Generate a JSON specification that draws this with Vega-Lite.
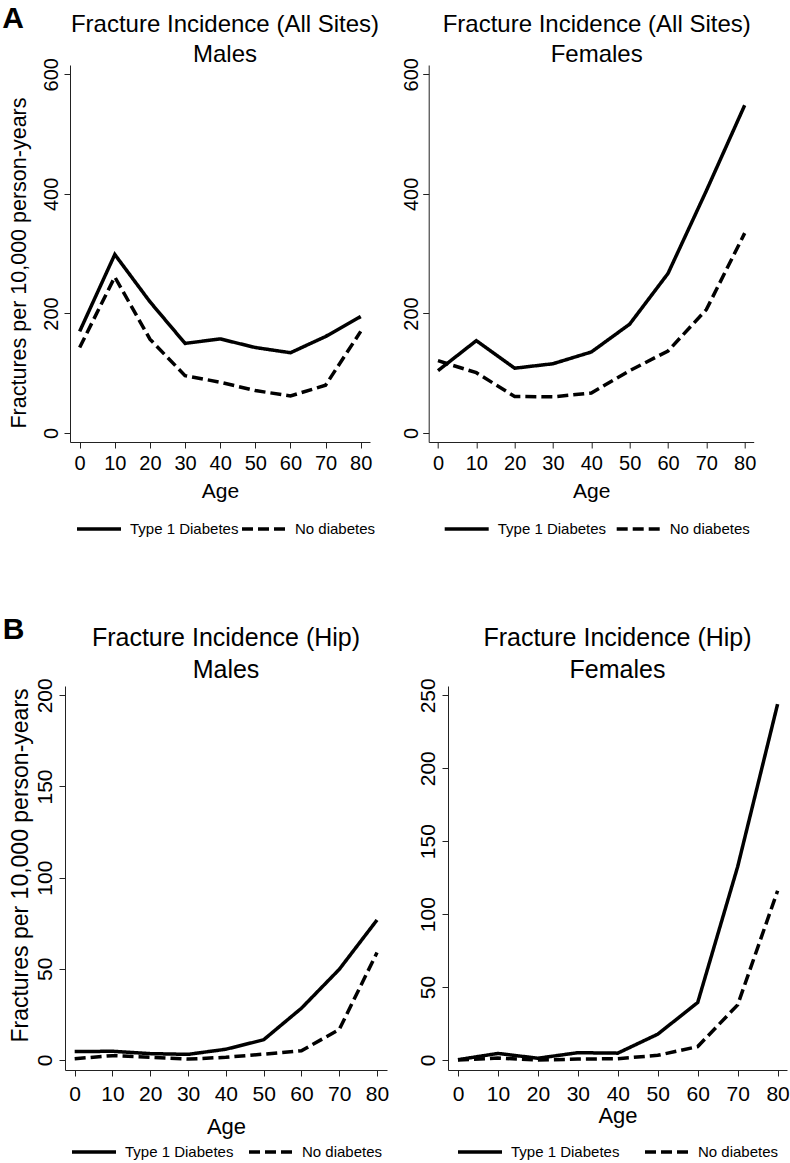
{
  "$schema": "https://vega.github.io/schema/vega-lite/v6.json",
  "padding": {"left": 2, "top": 3, "right": 0, "bottom": 0},
  "background": "white",
  "config": {
    "font": "Liberation Sans",
    "view": {"stroke": null},
    "axis": {
      "grid": false,
      "domainColor": "#222",
      "tickColor": "#222",
      "domainWidth": 1,
      "tickWidth": 1,
      "tickSize": 6,
      "labelColor": "black",
      "titleColor": "black",
      "labelFont": "Liberation Sans",
      "titleFont": "Liberation Sans",
      "labelFontSize": 20,
      "titleFontSize": 21,
      "titleFontWeight": "normal"
    },
    "axisY": {
      "labelAngle": -90,
      "labelAlign": "center",
      "labelBaseline": "bottom",
      "labelPadding": 2.4,
      "titleFontSize": 21.5,
      "titlePadding": 11
    },
    "axisX": {"labelPadding": 5, "titlePadding": 7.5},
    "title": {"font": "Liberation Sans", "fontSize": 24, "fontWeight": "normal", "color": "black", "lineHeight": 29.5, "offset": -9},
    "legend": {
      "orient": "bottom",
      "direction": "horizontal",
      "title": null,
      "symbolType": "stroke",
      "symbolSize": 1936,
      "symbolStrokeWidth": 3.5,
      "symbolStrokeColor": "black",
      "labelFont": "Liberation Sans",
      "labelFontSize": 15,
      "labelColor": "black",
      "labelOffset": 7,
      "columnPadding": 3,
      "offset": 3,
      "layout": {"bottom": {"anchor": "middle"}}
    },
    "line": {"color": "black", "strokeWidth": 3.5}
  },
  "data": {
    "values": [
      {"panel": "AM", "group": "Type 1 Diabetes", "age": 0, "rate": 170},
      {"panel": "AM", "group": "Type 1 Diabetes", "age": 10, "rate": 298.6},
      {"panel": "AM", "group": "Type 1 Diabetes", "age": 20, "rate": 219.6},
      {"panel": "AM", "group": "Type 1 Diabetes", "age": 30, "rate": 149.9},
      {"panel": "AM", "group": "Type 1 Diabetes", "age": 40, "rate": 157.4},
      {"panel": "AM", "group": "Type 1 Diabetes", "age": 50, "rate": 143},
      {"panel": "AM", "group": "Type 1 Diabetes", "age": 60, "rate": 134.3},
      {"panel": "AM", "group": "Type 1 Diabetes", "age": 70, "rate": 161.4},
      {"panel": "AM", "group": "Type 1 Diabetes", "age": 80, "rate": 194.8},
      {"panel": "AM", "group": "No diabetes", "age": 0, "rate": 143},
      {"panel": "AM", "group": "No diabetes", "age": 10, "rate": 261},
      {"panel": "AM", "group": "No diabetes", "age": 20, "rate": 157},
      {"panel": "AM", "group": "No diabetes", "age": 30, "rate": 96},
      {"panel": "AM", "group": "No diabetes", "age": 40, "rate": 85},
      {"panel": "AM", "group": "No diabetes", "age": 50, "rate": 71},
      {"panel": "AM", "group": "No diabetes", "age": 60, "rate": 62},
      {"panel": "AM", "group": "No diabetes", "age": 70, "rate": 80},
      {"panel": "AM", "group": "No diabetes", "age": 80, "rate": 170},
      {"panel": "AF", "group": "Type 1 Diabetes", "age": 0, "rate": 104.3},
      {"panel": "AF", "group": "Type 1 Diabetes", "age": 10, "rate": 154.5},
      {"panel": "AF", "group": "Type 1 Diabetes", "age": 20, "rate": 108.4},
      {"panel": "AF", "group": "Type 1 Diabetes", "age": 30, "rate": 115.9},
      {"panel": "AF", "group": "Type 1 Diabetes", "age": 40, "rate": 135.5},
      {"panel": "AF", "group": "Type 1 Diabetes", "age": 50, "rate": 182.1},
      {"panel": "AF", "group": "Type 1 Diabetes", "age": 60, "rate": 266.9},
      {"panel": "AF", "group": "Type 1 Diabetes", "age": 70, "rate": 405.2},
      {"panel": "AF", "group": "Type 1 Diabetes", "age": 80, "rate": 548.2},
      {"panel": "AF", "group": "No diabetes", "age": 0, "rate": 121},
      {"panel": "AF", "group": "No diabetes", "age": 10, "rate": 100.9},
      {"panel": "AF", "group": "No diabetes", "age": 20, "rate": 61.1},
      {"panel": "AF", "group": "No diabetes", "age": 30, "rate": 60.5},
      {"panel": "AF", "group": "No diabetes", "age": 40, "rate": 66.9},
      {"panel": "AF", "group": "No diabetes", "age": 50, "rate": 104.3},
      {"panel": "AF", "group": "No diabetes", "age": 60, "rate": 137.2},
      {"panel": "AF", "group": "No diabetes", "age": 70, "rate": 206.4},
      {"panel": "AF", "group": "No diabetes", "age": 80, "rate": 334.3},
      {"panel": "BM", "group": "Type 1 Diabetes", "age": 0, "rate": 4.6},
      {"panel": "BM", "group": "Type 1 Diabetes", "age": 10, "rate": 4.8},
      {"panel": "BM", "group": "Type 1 Diabetes", "age": 20, "rate": 3.5},
      {"panel": "BM", "group": "Type 1 Diabetes", "age": 30, "rate": 3.1},
      {"panel": "BM", "group": "Type 1 Diabetes", "age": 40, "rate": 5.9},
      {"panel": "BM", "group": "Type 1 Diabetes", "age": 50, "rate": 11.1},
      {"panel": "BM", "group": "Type 1 Diabetes", "age": 60, "rate": 28.4},
      {"panel": "BM", "group": "Type 1 Diabetes", "age": 70, "rate": 49.7},
      {"panel": "BM", "group": "Type 1 Diabetes", "age": 80, "rate": 76.8},
      {"panel": "BM", "group": "No diabetes", "age": 0, "rate": 0.7},
      {"panel": "BM", "group": "No diabetes", "age": 10, "rate": 2.4},
      {"panel": "BM", "group": "No diabetes", "age": 20, "rate": 1.5},
      {"panel": "BM", "group": "No diabetes", "age": 30, "rate": 0.5},
      {"panel": "BM", "group": "No diabetes", "age": 40, "rate": 1.5},
      {"panel": "BM", "group": "No diabetes", "age": 50, "rate": 3.2},
      {"panel": "BM", "group": "No diabetes", "age": 60, "rate": 5.1},
      {"panel": "BM", "group": "No diabetes", "age": 70, "rate": 16.7},
      {"panel": "BM", "group": "No diabetes", "age": 80, "rate": 58.9},
      {"panel": "BF", "group": "Type 1 Diabetes", "age": 0, "rate": 0.2},
      {"panel": "BF", "group": "Type 1 Diabetes", "age": 10, "rate": 4.5},
      {"panel": "BF", "group": "Type 1 Diabetes", "age": 20, "rate": 1.2},
      {"panel": "BF", "group": "Type 1 Diabetes", "age": 30, "rate": 5.0},
      {"panel": "BF", "group": "Type 1 Diabetes", "age": 40, "rate": 4.7},
      {"panel": "BF", "group": "Type 1 Diabetes", "age": 50, "rate": 17.7},
      {"panel": "BF", "group": "Type 1 Diabetes", "age": 60, "rate": 39.4},
      {"panel": "BF", "group": "Type 1 Diabetes", "age": 70, "rate": 132.5},
      {"panel": "BF", "group": "Type 1 Diabetes", "age": 80, "rate": 244},
      {"panel": "BF", "group": "No diabetes", "age": 0, "rate": 0},
      {"panel": "BF", "group": "No diabetes", "age": 10, "rate": 1.3},
      {"panel": "BF", "group": "No diabetes", "age": 20, "rate": 0},
      {"panel": "BF", "group": "No diabetes", "age": 30, "rate": 0.6},
      {"panel": "BF", "group": "No diabetes", "age": 40, "rate": 0.9},
      {"panel": "BF", "group": "No diabetes", "age": 50, "rate": 3.2},
      {"panel": "BF", "group": "No diabetes", "age": 60, "rate": 9.2},
      {"panel": "BF", "group": "No diabetes", "age": 70, "rate": 37.8},
      {"panel": "BF", "group": "No diabetes", "age": 80, "rate": 116}
    ]
  },
  "spacing": 77,
  "resolve": {"scale": {"x": "independent", "y": "independent", "strokeDash": "independent"}, "legend": {"strokeDash": "independent"}},
  "vconcat": [
    {
      "title": {"text": "A", "anchor": "start", "frame": "bounds", "fontSize": 30, "fontWeight": "bold", "offset": -20.6, "dx": -6.4},
      "hconcat": [
        {
          "width": 320, "height": 377,
          "title": {"text": ["Fracture Incidence (All Sites)", "Males"]},
          "transform": [{"filter": "datum.panel == 'AM'"}],
          "mark": {"type": "line"},
          "encoding": {
            "x": {"field": "age", "type": "quantitative", "scale": {"domain": [-2.75, 82.64], "range": [5, 305], "nice": false, "zero": false}, "axis": {"values": [0, 10, 20, 30, 40, 50, 60, 70, 80], "title": "Age", "titleX": 155}},
            "y": {"field": "rate", "type": "quantitative", "scale": {"domain": [-15, 615.5], "nice": false, "zero": false}, "axis": {"values": [0, 200, 400, 600], "title": "Fractures per 10,000 person-years", "titleY": 197.5, "offset": -5}},
            "strokeDash": {"field": "group", "type": "nominal", "scale": {"domain": ["Type 1 Diabetes", "No diabetes"], "range": [[1, 0], [11, 5]]}, "legend": {"columnPadding": -4, "offset": 3}}
          }
        },
        {
          "width": 336, "height": 377,
          "title": {"text": ["Fracture Incidence (All Sites)", "Females"]},
          "transform": [{"filter": "datum.panel == 'AF'"}],
          "mark": {"type": "line"},
          "encoding": {
            "x": {"field": "age", "type": "quantitative", "scale": {"domain": [-2.42, 82.35], "range": [0, 325], "nice": false, "zero": false}, "axis": {"values": [0, 10, 20, 30, 40, 50, 60, 70, 80], "title": "Age", "titleX": 162.5}},
            "y": {"field": "rate", "type": "quantitative", "scale": {"domain": [-15, 615.5], "nice": false, "zero": false}, "axis": {"values": [0, 200, 400, 600], "title": null, "labelPadding": 1}},
            "strokeDash": {"field": "group", "type": "nominal", "scale": {"domain": ["Type 1 Diabetes", "No diabetes"], "range": [[1, 0], [11, 5]]}, "legend": {"columnPadding": 3, "offset": 3}}
          }
        }
      ],
      "spacing": 43.7,
      "bounds": "flush",
      "resolve": {"scale": {"x": "independent", "y": "independent", "strokeDash": "independent"}, "legend": {"strokeDash": "independent"}}
    },
    {
      "title": {"text": "B", "anchor": "start", "frame": "bounds", "fontSize": 30, "fontWeight": "bold", "offset": -19, "dx": -6.3},
      "hconcat": [
        {
          "width": 322, "height": 384,
          "title": {"text": ["Fracture Incidence (Hip)", "Males"], "fontSize": 25, "lineHeight": 32, "offset": -5},
          "transform": [{"filter": "datum.panel == 'BM'"}],
          "mark": {"type": "line"},
          "encoding": {
            "x": {"field": "age", "type": "quantitative", "scale": {"domain": [-2.56, 82.64], "nice": false, "zero": false}, "axis": {"values": [0, 10, 20, 30, 40, 50, 60, 70, 80], "title": "Age", "labelPadding": 7.4, "labelFontSize": 21, "titleFontSize": 22, "titlePadding": 12}},
            "y": {"field": "rate", "type": "quantitative", "scale": {"domain": [-5.48, 205.1], "nice": false, "zero": false}, "axis": {"values": [0, 50, 100, 150, 200], "title": "Fractures per 10,000 person-years", "titleFontSize": 23, "titleY": 179, "labelFontSize": 21, "labelPadding": 3.9, "titlePadding": 2.1}},
            "strokeDash": {"field": "group", "type": "nominal", "scale": {"domain": ["Type 1 Diabetes", "No diabetes"], "range": [[1, 0], [11, 5]]}, "legend": {"columnPadding": 8, "offset": -10}}
          }
        },
        {
          "width": 339, "height": 384,
          "title": {"text": ["Fracture Incidence (Hip)", "Females"], "fontSize": 25, "lineHeight": 32, "offset": -5},
          "transform": [{"filter": "datum.panel == 'BF'"}],
          "mark": {"type": "line"},
          "encoding": {
            "x": {"field": "age", "type": "quantitative", "scale": {"domain": [-2.5, 82.35], "nice": false, "zero": false}, "axis": {"values": [0, 10, 20, 30, 40, 50, 60, 70, 80], "title": "Age", "labelPadding": 7.4, "labelFontSize": 21, "titleFontSize": 22, "titlePadding": 1}},
            "y": {"field": "rate", "type": "quantitative", "scale": {"domain": [-6.86, 256.4], "nice": false, "zero": false}, "axis": {"values": [0, 50, 100, 150, 200, 250], "title": null, "labelFontSize": 21, "labelPadding": 4}},
            "strokeDash": {"field": "group", "type": "nominal", "scale": {"domain": ["Type 1 Diabetes", "No diabetes"], "range": [[1, 0], [11, 5]]}, "legend": {"columnPadding": 18, "offset": 1}}
          }
        }
      ],
      "spacing": 61,
      "bounds": "flush",
      "resolve": {"scale": {"x": "independent", "y": "independent", "strokeDash": "independent"}, "legend": {"strokeDash": "independent"}}
    }
  ]
}
